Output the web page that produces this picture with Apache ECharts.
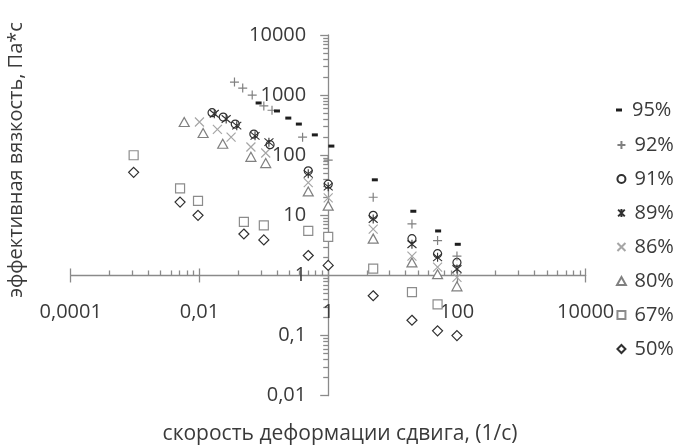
<!DOCTYPE html>
<html>
<head>
<meta charset="utf-8">
<script src="https://cdn.jsdelivr.net/npm/echarts@6/dist/echarts.min.js"></script>
<style>
  html, body { margin: 0; padding: 0; background: #fff; }
  #chart { width: 680px; height: 448px; }
</style>
</head>
<body>
<div id="chart"></div>
<script>
// Effective viscosity vs. shear rate for several concentrations
const seriesNames = ['95%', '92%', '91%', '89%', '86%', '80%', '67%', '50%'];

const x95 = [0.083, 0.16, 0.24, 0.35, 0.62, 1.12, 5.3, 21, 51, 103];
const y95 = [740, 545, 415, 330, 218, 142, 39, 11.7, 5.5, 3.3];

const x92 = [0.035, 0.047, 0.066, 0.1, 0.134, 0.4, 1, 5, 20, 50, 100];
const y92 = [1650, 1310, 1000, 660, 560, 200, 83, 20, 7.2, 3.8, 2.1];

const x91 = [0.0157, 0.0234, 0.036, 0.07, 0.125, 0.49, 1, 5, 20, 50, 100];
const y91 = [510, 432, 330, 225, 150, 55, 33, 10, 4.1, 2.3, 1.65];

const x89 = [0.017, 0.026, 0.038, 0.073, 0.12, 0.49, 1, 5, 20, 50, 100];
const y89 = [490, 400, 310, 210, 165, 49, 30, 8.7, 3.3, 2.0, 1.28];

const x86 = [0.01, 0.019, 0.031, 0.063, 0.107, 0.49, 1, 5, 20, 50, 100];
const y86 = [357, 270, 200, 137, 109, 35, 19.5, 5.9, 2.1, 1.38, 0.93];

const x80 = [0.0058, 0.0114, 0.023, 0.063, 0.107, 0.49, 1, 5, 20, 50, 100];
const y80 = [357, 234, 155, 94, 74, 25, 14.5, 4.1, 1.65, 1.05, 0.66];

const x67 = [0.00095, 0.005, 0.0095, 0.049, 0.1, 0.49, 1, 5, 20, 50];
const y67 = [100, 28, 17.4, 7.8, 6.8, 5.5, 4.4, 1.3, 0.53, 0.33];

const x50 = [0.00095, 0.005, 0.0095, 0.049, 0.1, 0.49, 1, 5, 20, 50, 100];
const y50 = [52, 16.6, 10, 4.9, 3.9, 2.15, 1.47, 0.46, 0.18, 0.12, 0.1];

const xTickLabels = ['0,0001', '0,01', '1', '100', '10000'];
const yTickLabels = ['0,01', '0,1', '1', '10', '100', '1000', '10000'];

const xTitle = 'скорость деформации сдвига, (1/с)';
const yTitle = 'эффективная вязкость, Па*с';

const FONT = '"Open Sans", "Noto Sans", sans-serif';
const TEXT = '#3a3a3a';
const AXIS = '#8a8a8a';

const pairs = (xs, ys) => xs.map((v, i) => [v, ys[i]]);

// marker shapes
const SYM = {
  plus: 'path://M0,5H10M5,0V10',
  cross: 'path://M0,0L10,10M10,0L0,10',
  star: 'path://M0,0L10,10M10,0L0,10M5,-1V11',
  circle: 'path://M0,5A5,5,0,1,1,10,5A5,5,0,1,1,0,5Z',
  tri: 'path://M5,0L10,9L0,9Z',
  square: 'path://M0,0H10V10H0Z',
  diamond: 'path://M5,0L10,5L5,10L0,5Z',
  dash: 'path://M0,0H6V3H0Z'
};

const xLogMin = 1e-4, xLogMax = 1e4, yLogMin = 0.01, yLogMax = 1e4;
const lx0 = Math.log10(xLogMin), lx1 = Math.log10(xLogMax);
const ly0 = Math.log10(yLogMin), ly1 = Math.log10(yLogMax);

// tick positions in exponent space: x axis steps by x100, y axis by x10
const xMinorExp = [];
for (let e = lx0; e < lx1; e += 2) for (let k = 2; k <= 9; k++) xMinorExp.push(e + 2 * Math.log10(k));
const yMinorExp = [];
for (let e = ly0; e < ly1; e += 1) for (let k = 2; k <= 9; k++) yMinorExp.push(e + Math.log10(k));

const gridLeft = 70.7, gridTop = 35, gridW = 515, gridH = 360.7;
// axes cross at (1, 1)
const xAxisOffset = -(gridH * (0 - ly0) / (ly1 - ly0));
const yAxisOffset = -(gridW * (0 - lx0) / (lx1 - lx0));

const fmtNum = v => String(+(+v).toPrecision(6)).replace('.', ',');
const tickLine = { color: AXIS, width: 1.3 };

const hidden = {
  splitLine: { show: false }, axisLine: { show: false },
  axisLabel: { show: false }, axisTick: { show: false }
};

const chart = echarts.init(document.getElementById('chart'), null, { renderer: 'canvas' });

const mk = (name, xs, ys, symbol, size, color, border, bw) => ({
  name, type: 'scatter', data: pairs(xs, ys), symbol, symbolSize: size,
  xAxisIndex: 0, yAxisIndex: 0,
  itemStyle: { color, borderColor: border, borderWidth: bw, opacity: 1 },
  emphasis: { disabled: true },
  animation: false
});

chart.setOption({
  animation: false,
  textStyle: { fontFamily: FONT },
  grid: { left: gridLeft, top: gridTop, width: gridW, height: gridH, containLabel: false, outerBoundsMode: 'none' },
  xAxis: [
    Object.assign({}, hidden, {
      type: 'log', logBase: 100, min: xLogMin, max: xLogMax,
      position: 'bottom', offset: xAxisOffset,
      axisLine: { show: true, lineStyle: tickLine },
      axisTick: { show: true, inside: false, length: 7, lineStyle: tickLine },
      axisLabel: {
        show: true, margin: 27, fontSize: 20, color: TEXT, fontFamily: FONT,
        formatter: v => { const s = fmtNum(v); return xTickLabels.includes(s) ? s : ''; }
      }
    }),
    // upper half of the crossing major ticks
    Object.assign({}, hidden, {
      type: 'value', min: lx0, max: lx1, interval: 2,
      position: 'bottom', offset: xAxisOffset,
      axisTick: { show: true, inside: true, length: 7, lineStyle: tickLine }
    }),
    // minor ticks
    Object.assign({}, hidden, {
      type: 'value', min: lx0, max: lx1,
      position: 'bottom', offset: xAxisOffset,
      axisTick: { show: true, inside: true, length: 5, customValues: xMinorExp, lineStyle: tickLine }
    })
  ],
  yAxis: [
    Object.assign({}, hidden, {
      type: 'log', logBase: 10, min: yLogMin, max: yLogMax,
      position: 'left', offset: yAxisOffset,
      axisLine: { show: true, lineStyle: tickLine },
      axisTick: { show: true, inside: false, length: 8, lineStyle: tickLine },
      axisLabel: {
        show: true, margin: 22, fontSize: 20, color: TEXT, fontFamily: FONT,
        formatter: v => { const s = fmtNum(v); return yTickLabels.includes(s) ? s : ''; }
      }
    }),
    Object.assign({}, hidden, {
      type: 'value', min: ly0, max: ly1,
      position: 'left', offset: yAxisOffset,
      axisTick: { show: true, inside: false, length: 5, customValues: yMinorExp, lineStyle: tickLine }
    })
  ],
  legend: [
    {
      orient: 'vertical', left: 616, top: 100, padding: 0,
      itemWidth: 16, itemHeight: 3, itemGap: 14,
      textStyle: { fontSize: 20, color: TEXT, fontFamily: FONT },
      data: [{ name: '95%', icon: SYM.dash }],
      selectedMode: false
    },
    {
      orient: 'vertical', left: 616, top: 135, padding: 0,
      itemWidth: 16, itemHeight: 8, itemGap: 14,
      textStyle: { fontSize: 20, color: TEXT, fontFamily: FONT },
      data: [
        { name: '92%', icon: SYM.plus },
        { name: '91%', icon: SYM.circle },
        { name: '89%', icon: SYM.star },
        { name: '86%', icon: SYM.cross },
        { name: '80%', icon: SYM.tri },
        { name: '67%', icon: SYM.square },
        { name: '50%', icon: SYM.diamond }
      ],
      selectedMode: false
    }
  ],
  graphic: [
    {
      type: 'text', x: 340, y: 434, silent: true,
      style: { text: xTitle, font: '21px ' + FONT, fill: TEXT, align: 'center', verticalAlign: 'middle', textAlign: 'center', textVerticalAlign: 'middle' }
    },
    {
      type: 'text', x: 16, y: 160, rotation: Math.PI / 2, silent: true,
      style: { text: yTitle, font: '20px ' + FONT, fill: TEXT, align: 'center', verticalAlign: 'middle', textAlign: 'center', textVerticalAlign: 'middle' }
    }
  ],
  series: [
    mk('67%', x67, y67, 'rect', 9, '#fff', '#8c8c8c', 1.2),
    mk('80%', x80, y80, 'triangle', [10, 9], '#fff', '#808080', 1.2),
    mk('86%', x86, y86, SYM.cross, 9, '#a6a6a6', '#a6a6a6', 1.2),
    mk('50%', x50, y50, 'diamond', [10, 10], '#fff', '#303030', 1.2),
    mk('91%', x91, y91, 'circle', 8, '#fff', '#303030', 1.2),
    mk('89%', x89, y89, SYM.star, 9, '#303030', '#303030', 1.1),
    mk('92%', x92, y92, SYM.plus, 9, '#808080', '#808080', 1.2),
    mk('95%', x95, y95, 'rect', [6, 3], '#1e1e1e', '#1e1e1e', 0)
  ]
});
</script>
</body>
</html>
